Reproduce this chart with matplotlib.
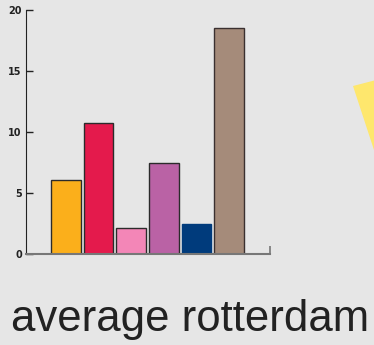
import matplotlib.pyplot as plt
from matplotlib.patches import Polygon

# Values
values = [6.1, 10.7, 2.1, 7.5, 2.5, 18.5]
colors = ['#FBAF1B', '#E41A4C', '#F386B7', '#BA62A5', '#003B7C', '#A58B7A']
edges = ['#2b2b2b', '#2b2b2b', '#2b2b2b', '#2b2b2b', '#003B7C', '#3a3030']
yticks = [0, 5, 10, 15, 20]
title = 'average rotterdam'

bg = '#E6E6E6'
fig = plt.figure(figsize=(3.74, 3.45), dpi=100)
fig.set_facecolor(bg)

# decorative yellow shape at the right edge
fig.patches.append(Polygon([(353/374, 1-86/345), (380/374, 1-79/345),
                            (395/374, 1-150/345), (374/374, 1-150/345)],
                           closed=True, transform=fig.transFigure,
                           facecolor='#FEE76D', edgecolor='none'))

ax = fig.add_axes([26/374, (345-254)/345, 244/374, 244/345])
ax.set_facecolor(bg)
pos = list(range(len(values)))
ax.bar(pos, values, width=0.9, color=colors, edgecolor=edges, linewidth=1.0)

ax.set_xlim(-1.22, 6.25)
ax.set_ylim(0, 20)
ax.set_yticks(yticks)
ax.set_yticklabels([str(t) for t in yticks], fontsize=7, fontweight='bold', color='#222222')
ax.tick_params(axis='y', direction='in', length=5, width=1, color='#222222', pad=3)
ax.set_xticks([6.25])
ax.set_xticklabels([''])
ax.tick_params(axis='x', direction='in', length=6, width=1.2, color='#777777')

for s in ['top', 'right']:
    ax.spines[s].set_visible(False)
ax.spines['left'].set_color('#222222')
ax.spines['bottom'].set_color('#777777')
ax.spines['bottom'].set_linewidth(1.5)

fig.text(11/374, 1-331/345, title, fontsize=31.5, family='Liberation Sans',
         color='#222222', ha='left', va='baseline')

fig.savefig('out.png', dpi=100, facecolor=bg)
